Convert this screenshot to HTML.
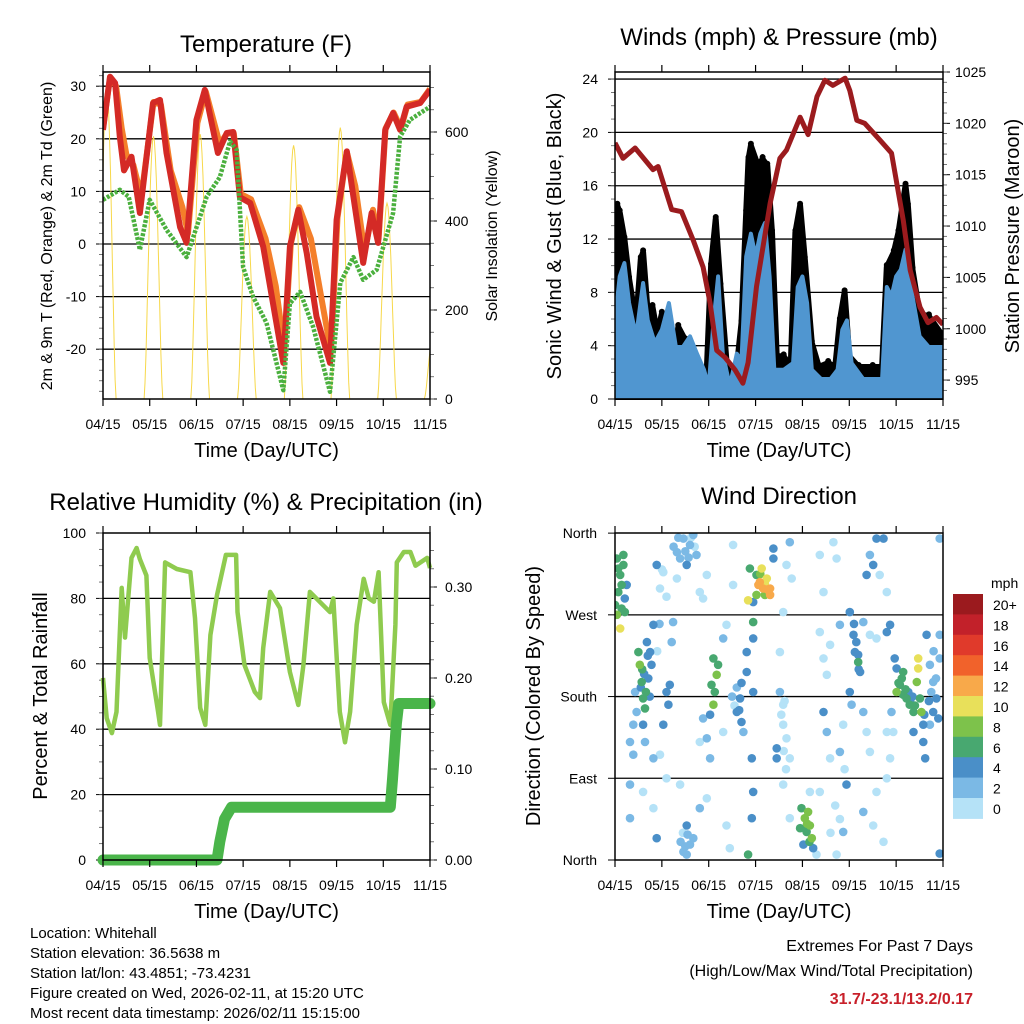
<!DOCTYPE html>
<html><head><meta charset="utf-8"><style>
html,body{margin:0;padding:0;background:#fff}
svg{display:block;font-family:"Liberation Sans",Arial,sans-serif}
</style></head><body>
<svg id="c" width="1024" height="1024" viewBox="0 0 1024 1024" xmlns="http://www.w3.org/2000/svg"></svg>
<script>
// ---------- Temperature panel data ----------
const redDay=[0,0.15,0.26,0.36,0.45,0.61,0.79,1.07,1.22,1.36,1.65,1.79,2.0,2.18,2.46,2.65,2.79,2.93,3.15,3.43,3.64,3.86,4.0,4.18,4.36,4.57,4.86,5.0,5.22,5.36,5.57,5.75,5.89,6.04,6.21,6.36,6.5,6.79,7.0];
const redT=[21.7,31.8,30.6,20.4,14,16.6,5.9,26.8,27.4,17.3,3.2,0.2,23.6,29.3,17.3,21.1,21.3,8.9,7.8,-0.5,-11.3,-22.6,-0.5,6.5,-1.7,-13.8,-22.6,4.6,17.6,9,-3.6,5.9,0.2,21.7,24.9,21.7,26.1,26.8,29.3];
const orgDay=[0,0.15,0.28,0.4,0.5,0.65,0.82,1.08,1.24,1.45,1.7,1.82,2.02,2.2,2.5,2.65,2.8,2.95,3.17,3.48,3.7,3.88,4.02,4.2,4.45,4.65,4.88,5.02,5.22,5.4,5.6,5.78,5.9,6.05,6.22,6.38,6.52,6.8,7.0];
const orgT=[22,31.5,30,22,17,15,9,27,26.5,14,7,2,23,29,19,21,21,9.5,8.5,1,-8,-20,0,7,1,-9,-20.5,5,17.5,11,-1.5,6.5,1,22,25,22,26.5,27,29.5];
const tdDay=[0,0.36,0.55,0.79,1.0,1.36,1.79,2.22,2.5,2.72,2.86,3.0,3.21,3.5,3.86,4.0,4.22,4.5,4.86,5.08,5.36,5.57,5.86,6.21,6.36,6.57,7.0];
const tdT=[8.4,10.3,9,-1.1,8.4,2.7,-2.5,9,12.7,19.5,17.9,-4.4,-10,-15,-27.8,-11.3,-9.1,-15.8,-28.1,-7.4,-2.5,-6.8,-4.9,5.9,20.4,23.6,26.1];
const solarPeak=[700,590,595,410,570,610,440,150];
const tempTicks=[-20,-10,0,10,20,30];
const solarTicks=[0,200,400,600];
const xTickLabels=["04/15","05/15","06/15","07/15","08/15","09/15","10/15","11/15"];
// ---------- Wind panel data ----------
const presDay=[0,0.17,0.43,0.81,0.92,1.21,1.42,1.67,1.88,2.03,2.17,2.35,2.56,2.73,2.84,3.02,3.31,3.52,3.66,3.95,4.12,4.31,4.48,4.65,4.91,5.01,5.16,5.33,5.65,5.9,6.15,6.3,6.51,6.68,6.86,7.0];
const presMb=[1018.1,1016.6,1017.6,1015.5,1015.8,1011.6,1011.4,1008.6,1006,1002.5,997.9,997.2,996,994.7,996.7,1004.1,1012.2,1016.6,1017.4,1020.6,1018.9,1022.6,1024.2,1023.7,1024.4,1023.2,1020.3,1020,1018.4,1017.1,1010.6,1005.7,1002.1,1000.6,1001.1,1000.4];
const windDay=[0,0.1,0.2,0.3,0.45,0.6,0.7,0.85,1.0,1.15,1.3,1.45,1.6,1.75,1.9,2.0,2.1,2.2,2.3,2.45,2.6,2.7,2.8,2.9,3.0,3.1,3.2,3.3,3.4,3.6,3.8,3.9,4.0,4.1,4.2,4.4,4.6,4.75,4.85,4.95,5.05,5.3,5.5,5.7,5.8,5.9,6.0,6.1,6.2,6.35,6.5,6.7,7.0];
const windSpd=[5.9,9.2,10.2,7.2,4.7,8.7,5.9,4.2,5.2,7.2,3.9,3.9,4.7,3.4,2.2,0.9,5.7,9.2,3.4,1,3.4,2.9,10.7,12.4,10.7,12.4,13.2,9.2,2.2,2.2,2.7,8.4,9.2,7.2,2.2,1.5,1.5,2.2,5.2,5.9,2.7,1.5,1.5,1.5,8.4,7.7,9.2,9.7,11.2,7.7,4.7,3.9,3.9];
const gustDay=[0,0.05,0.1,0.2,0.3,0.45,0.55,0.6,0.7,0.8,0.9,1.0,1.1,1.2,1.3,1.35,1.5,1.65,1.8,1.95,2.05,2.15,2.25,2.4,2.6,2.7,2.8,2.85,2.9,3.05,3.15,3.25,3.35,3.45,3.6,3.75,3.85,3.95,4.05,4.2,4.35,4.55,4.7,4.8,4.9,5.0,5.2,5.5,5.7,5.8,5.95,6.05,6.2,6.25,6.35,6.5,6.7,7.0];
const gustSpd=[13,14.5,14,12,9,5.7,10.5,11,6.4,6.9,4.9,6.4,5.4,5.4,3.9,5.4,4.4,1.9,1.4,1.4,10,13.5,8.5,1.9,2.4,5.7,14,18,19,17.5,18,17.5,12.5,3.2,3.2,2.4,12.5,14.5,10.5,4.2,2.4,2.7,2.4,5.9,8,3.2,2.4,2.4,2.4,9.9,11,12.5,16,14.5,9.7,6.4,6.2,4.7];
const windTicks=[0,4,8,12,16,20,24];
const presTicks=[995,1000,1005,1010,1015,1020,1025];
// ---------- RH panel data ----------
const rhDay=[0,0.08,0.19,0.29,0.4,0.47,0.61,0.72,0.79,0.93,1.0,1.18,1.22,1.33,1.58,1.87,1.97,2.08,2.19,2.3,2.44,2.63,2.85,2.88,3.03,3.25,3.36,3.43,3.58,3.79,4.0,4.18,4.29,4.43,4.86,4.93,5.07,5.18,5.29,5.43,5.58,5.69,5.8,5.9,6.01,6.15,6.26,6.29,6.44,6.58,6.69,6.94,7.0];
const rhPct=[55.7,43.4,38.8,45.3,83.2,68,92.4,95.4,92,87,61.8,45.3,41.3,91,89,88,74,46.5,41.3,68.8,81,93.3,93.3,75.8,59.6,51.4,49.5,64.8,82,77,57.5,47.4,59.6,82,75.8,80,45.3,36,45.3,72,86,80,79,88,48.3,41.3,72,91,94.2,94.2,90,92.4,89.3];
const prDay=[0,2.44,2.5,2.6,2.75,6.15,6.2,6.28,6.33,7.0];
const prIn=[0,0,0.02,0.045,0.058,0.058,0.09,0.15,0.172,0.172];
const rhTicks=[0,20,40,60,80,100];
const prTicks=["0.00","0.10","0.20","0.30"];
// ---------- Wind direction data (day,deg,mph) ----------
const wdRaw="0.04,332,7;0.11,314,7;0.18,325,7;0.07,295,7;0.21,288,5;0.14,277,7;0.04,270,9;0.11,255,11;0.25,303,5;0.18,336,7;0,281,7;0.21,273,7;0.07,321,7;0.14,303,7;0.5,229,7;0.53,215,9;0.57,196,7;0.6,178,7;0.64,167,7;0.75,229,5;0.78,215,5;0.71,200,5;0.82,259,5;0.68,240,5;0.43,185,3;0.39,149,3;0.6,149,5;0.64,130,3;0.39,116,3;0.32,130,3;0.82,112,3;0.46,163,3;1.32,339,3;1.46,354,3;1.6,347,3;1.67,358,3;1.39,332,3;1.53,325,5;1.74,336,3;1.81,295,1;1.88,288,1;1.32,310,1;0.96,299,1;0.89,325,5;1.03,317,1;1.96,314,1;1.17,193,5;1.1,185,5;1.14,171,5;1.03,149,5;1.24,262,3;1.21,240,3;0.96,116,1;1.39,83,1;1.53,38,5;1.6,17,3;1.46,9,3;1.67,24,3;1.53,6,3;0.89,24,5;0.32,46,3;0.32,83,3;0.82,57,1;1.1,90,1;0.6,75,1;2.1,222,7;2.17,204,9;2.13,185,7;2.06,193,7;2.2,215,7;2.1,171,9;2.03,160,5;1.88,156,3;1.96,134,3;2.03,112,3;1.81,130,1;1.96,68,1;1.81,57,3;2.31,141,1;2.38,259,1;2.31,244,3;2.52,347,1;2.52,303,1;2.38,38,1;2.45,13,1;2.6,163,5;2.67,178,5;2.7,152,5;2.81,207,5;2.81,229,5;2.74,141,3;2.88,321,7;3.02,314,7;3.09,306,13;3.16,299,13;3.31,299,13;3.24,310,11;3.13,321,11;3.02,292,9;2.95,284,5;2.84,286,11;3.31,292,13;3.2,292,9;3.06,303,13;3.38,332,5;3.38,343,5;2.95,262,7;2.95,244,5;2.92,112,5;2.95,75,5;2.92,46,5;2.84,6,7;2.95,185,5;3.45,123,5;3.45,112,5;3.73,350,3;3.66,325,1;3.77,310,1;3.59,273,1;3.52,229,1;3.52,185,3;3.59,171,1;3.59,149,1;3.66,134,1;3.73,112,1;3.59,83,1;3.73,46,1;3.98,57,7;4.05,46,9;4.16,38,9;4.09,31,7;4.2,24,9;4.02,17,5;4.12,53,9;4.23,13,5;3.95,35,7;4.16,75,1;4.3,6,1;4.37,336,1;4.45,295,1;4.37,251,1;4.45,222,1;4.52,204,1;4.45,163,5;4.52,141,3;4.59,112,1;4.66,350,1;4.73,332,1;4.8,259,3;4.59,237,1;4.87,149,1;4.8,119,3;4.94,83,5;4.87,31,3;4.73,6,1;4.37,75,1;5.01,273,5;5.09,248,5;5.19,226,5;5.19,218,7;5.23,207,5;5.12,229,5;5.01,185,5;5.05,171,3;5.3,262,3;5.37,314,5;5.44,336,3;5.51,325,5;5.58,354,5;5.73,354,5;5.65,314,1;5.8,295,1;5.44,248,1;5.58,244,1;5.3,163,3;5.37,141,1;5.44,119,1;5.3,53,3;5.58,75,1;5.51,38,1;5.73,20,1;5.8,141,1;5.87,112,1;5.87,259,5;5.8,251,5;6.01,185,9;6.08,193,7;6.15,182,7;6.12,200,7;6.22,178,7;6.29,171,7;6.37,163,7;6.26,185,5;6.47,222,11;6.47,211,11;6.44,196,9;6.54,163,9;6.51,178,7;5.97,222,5;6.01,211,5;6.15,207,7;6.58,149,5;6.58,130,5;6.62,112,5;6.37,141,5;6.65,248,5;6.72,215,3;6.79,196,3;6.86,178,5;6.9,156,5;6.93,222,3;6.93,248,3;6.79,163,5;6.72,149,3;6.93,354,3;6.93,7,5;5.9,163,3;5.94,141,1;5.8,90,1;1.4,20,3;1.5,15,3;1.55,28,3;1.45,30,1;1.25,345,3;1.35,355,3;1.5,340,3;1.57,333,3;1.62,355,1;1.7,345,1;0.55,190,5;0.62,205,5;0.7,225,5;0.74,180,5;0.66,185,7;0.58,210,7;2.5,180,3;2.55,170,1;2.65,165,5;2.6,190,3;2.7,195,5;3.6,120,1;3.65,100,1;3.55,160,1;3.62,175,1;3.1,315,9;3.2,305,11;3.25,298,13;4.05,35,7;4.1,40,9;4.15,20,7;6.05,195,7;6.2,188,7;6.3,176,5;6.4,170,7;6.35,180,5;6.6,160,5;6.7,175,5;6.75,185,3;6.85,200,3;6.8,230,3;5.15,240,5;5.2,210,5;5.1,260,5;4.7,60,1;4.8,45,1;4.6,30,1;4.9,100,1;1.0,320,1;1.1,290,1;0.95,260,3;0.9,230,1";
const wdDay=[],wdDir=[],wdSpd=[];
wdRaw.split(";").forEach(s=>{const p=s.split(",");wdDay.push(+p[0]);wdDir.push(+p[1]);wdSpd.push(+p[2]);});
const cbLabels=["20+","18","16","14","12","10","8","6","4","2","0"];
const cbColors=["#9b1a1e","#c2212a","#e03a2b","#f1622b","#f8a94a","#e8e05a","#7dc24b","#48a870","#4a8fc8","#7bb9e5","#b5e2f7"];
const dirLabels=["North","East","South","West","North"];

// ---------- helpers ----------
const svg=document.getElementById('c');
const NS="http://www.w3.org/2000/svg";
function mk(tag,at,parent){const e=document.createElementNS(NS,tag);for(const k in at)e.setAttribute(k,at[k]);(parent||svg).appendChild(e);return e;}
function txt(x,y,s,size,anchor,extra){const t=mk('text',Object.assign({x:x,y:y,'font-size':size,'text-anchor':anchor||'middle',fill:'#000'},extra||{}));t.textContent=s;return t;}
function line(x1,y1,x2,y2,c,w){return mk('line',{x1:x1,y1:y1,x2:x2,y2:y2,stroke:c||'#000','stroke-width':w||1});}
function pts(xa,ya,fx,fy){return xa.map((d,i)=>fx(d).toFixed(1)+','+fy(ya[i]).toFixed(1)).join(' ');}

function xAxis(x0,x1,yb,yt){
  const fx=d=>x0+d/7*(x1-x0);
  xTickLabels.forEach((l,i)=>{
    const x=fx(i);
    const tk=line(x,yb,x,yb+7,'#000',1.2);
    
    
    line(x,yt,x,yt-7,'#000',1.2);
    const t=txt(x,yb+30,l,14);
    
    
  });
  const tt=txt((x0+x1)/2,yb+58,"Time (Day/UTC)",20);
  
  
  return fx;
}
function frame(x0,y0,x1,y1,name){
  const r=mk('rect',{x:x0,y:y0,width:x1-x0,height:y1-y0,fill:'none',stroke:'#000','stroke-width':1.5});
  
  
}

// ================= Panel 1: Temperature =================
(function(){
  const x0=103,x1=430,y0=72,y1=399;
  const fy=v=>244-v*5.26;
  const fs=v=>399-v*0.445;
  const fx=d=>x0+d/7*(x1-x0);
  const t=txt(266,52,"Temperature (F)",24);
  
  
  tempTicks.forEach(v=>{
    const g=line(x0,fy(v),x1,fy(v),'#000',1.3);
    
    
    line(x0-7,fy(v),x0,fy(v));
    const l=txt(86,fy(v)+5,String(v),14,'end');
    
    
  });
  for(let v=-28;v<=32;v+=2){line(x0-4,fy(v),x0,fy(v),'#555',0.8);}
  solarTicks.forEach(v=>{
    line(x1,fs(v),x1+7,fs(v));
    const l=txt(445,fs(v)+5,String(v),14,'start');
    
    
  });
  for(let v=0;v<=720;v+=50){line(x1,fs(v),x1+4,fs(v),'#555',0.8);}
  const cp=mk('clipPath',{id:'cp1'});mk('rect',{x:x0,y:y0,width:x1-x0,height:y1-y0},cp);
  const g=mk('g',{'clip-path':'url(#cp1)'});
  solarPeak.forEach((p,i)=>{
    const c=i+0.08;let d='';
    for(let k=0;k<=20;k++){const dd=c-0.2+k*0.02;const v=p*Math.pow(Math.sin(Math.PI*k/20),1.5);d+=(k?'L':'M')+fx(dd).toFixed(1)+','+fs(v).toFixed(1);}
    const s=mk('path',{d:d,fill:'none',stroke:'#f7d84a','stroke-width':1},g);
    
    
  });
  const o=mk('polyline',{points:pts(orgDay,orgT,fx,fy),fill:'none',stroke:'#f47f2a','stroke-width':6,'stroke-linejoin':'round'},g);
  
  
  const r=mk('polyline',{points:pts(redDay,redT,fx,fy),fill:'none',stroke:'#d42a26','stroke-width':6,'stroke-linejoin':'round'},g);
  
  
  const gd=mk('polyline',{points:pts(tdDay,tdT,fx,fy),fill:'none',stroke:'#4bb03e','stroke-width':4.5,'stroke-dasharray':'3 1.5','stroke-linejoin':'round'},g);
  
  
  frame(x0,y0,x1,y1,'temperature-plot-frame');
  xAxis(x0,x1,y1,y0);
  const yl=txt(0,0,"2m & 9m T (Red, Orange) & 2m Td (Green)",16,'middle',{transform:'translate(52,236) rotate(-90)'});
  
  
  const yr=txt(0,0,"Solar Insolation (Yellow)",16,'middle',{transform:'translate(497,236) rotate(-90)'});
  
  
})();

// ================= Panel 2: Winds =================
(function(){
  const x0=615,x1=943,y0=72,y1=399;
  const fy=v=>399-v*13.33;
  const fp=p=>72+(1025-p)*10.27;
  const fx=d=>x0+d/7*(x1-x0);
  const t=txt(779,45,"Winds (mph) & Pressure (mb)",24);
  
  
  windTicks.forEach(v=>{
    if(v>0){const g=line(x0,fy(v),x1,fy(v),'#000',1.3);
      
      }
    line(x0-7,fy(v),x0,fy(v));
    const l=txt(598,fy(v)+5,String(v),14,'end');
    
    
  });
  for(let v=1;v<=24;v++){line(x0-4,fy(v),x0,fy(v),'#555',0.8);}
  presTicks.forEach(v=>{
    line(x1,fp(v),x1+7,fp(v));
    const l=txt(955,fp(v)+5,String(v),14,'start');
    
    
  });
  for(let v=994;v<=1025;v++){line(x1,fp(v),x1+4,fp(v),'#555',0.8);}
  const cp=mk('clipPath',{id:'cp2'});mk('rect',{x:x0,y:y0,width:x1-x0,height:y1-y0+1},cp);
  const g=mk('g',{'clip-path':'url(#cp2)'});
  const gp=pts(gustDay,gustSpd,fx,fy)+' '+fx(7).toFixed(1)+','+fy(0)+' '+fx(0).toFixed(1)+','+fy(0);
  const gpoly=mk('polygon',{points:gp,fill:'#000',stroke:'#000','stroke-width':6,'stroke-linejoin':'round'},g);
  
  
  gustDay.forEach((d,i)=>{
    const c=mk('circle',{cx:fx(d),cy:fy(gustSpd[i])-2,r:3,fill:'#000'},g);
    
    
  });
  const wp=pts(windDay,windSpd,fx,fy)+' '+fx(7).toFixed(1)+','+fy(0.2)+' '+fx(0).toFixed(1)+','+fy(0.2);
  const wpoly=mk('polygon',{points:wp,fill:'#5096d0',stroke:'#5096d0','stroke-width':4,'stroke-linejoin':'round'},g);
  
  
  const pl=mk('polyline',{points:pts(presDay,presMb,fx,fp),fill:'none',stroke:'#9b1b1e','stroke-width':5,'stroke-linejoin':'round'},g);
  
  
  frame(x0,y0,x1,y1,'winds-plot-frame');
  xAxis(x0,x1,y1,y0);
  const yl=txt(0,0,"Sonic Wind & Gust (Blue, Black)",20,'middle',{transform:'translate(561,236) rotate(-90)'});
  
  
  const yr=txt(0,0,"Station Pressure (Maroon)",20,'middle',{transform:'translate(1019,236) rotate(-90)'});
  
  
})();

// ================= Panel 3: RH & precip =================
(function(){
  const x0=103,x1=430,y0=533,y1=860;
  const fy=v=>860-v*3.27;
  const fpr=v=>860-v*910;
  const fx=d=>x0+d/7*(x1-x0);
  const t=txt(266,510,"Relative Humidity (%) & Precipitation (in)",24);
  
  
  rhTicks.forEach(v=>{
    if(v>0&&v<100){const g=line(x0,fy(v),x1,fy(v),'#000',1.3);
      
      }
    line(x0-7,fy(v),x0,fy(v));
    const l=txt(86,fy(v)+5,String(v),14,'end');
    
    
  });
  for(let v=0;v<=100;v+=5){line(x0-4,fy(v),x0,fy(v),'#555',0.8);}
  prTicks.forEach(s=>{
    const v=parseFloat(s);
    line(x1,fpr(v),x1+7,fpr(v));
    const l=txt(445,fpr(v)+5,s,14,'start');
    
    
  });
  for(let v=0;v<=0.36;v+=0.02){line(x1,fpr(v),x1+4,fpr(v),'#555',0.8);}
  const cp=mk('clipPath',{id:'cp3'});mk('rect',{x:x0-6,y:y0,width:x1-x0+12,height:y1-y0+6},cp);
  const g=mk('g',{'clip-path':'url(#cp3)'});
  const rh=mk('polyline',{points:pts(rhDay,rhPct,fx,fy),fill:'none',stroke:'#8fcb4f','stroke-width':4.5,'stroke-linejoin':'round'},g);
  
  
  const pr=mk('polyline',{points:pts(prDay,prIn,fx,fpr),fill:'none',stroke:'#4ab54a','stroke-width':11,'stroke-linejoin':'round','stroke-linecap':'round'},g);
  
  
  frame(x0,y0,x1,y1,'rh-plot-frame');
  xAxis(x0,x1,y1,y0);
  const yl=txt(0,0,"Percent & Total Rainfall",20,'middle',{transform:'translate(47,696) rotate(-90)'});
  
  
})();

// ================= Panel 4: Wind direction =================
(function(){
  const x0=615,x1=943,y0=533,y1=860;
  const fy=v=>860-v*0.908;
  const fx=d=>x0+d/7*(x1-x0);
  const t=txt(779,504,"Wind Direction",24);
  
  
  dirLabels.forEach((l,i)=>{
    const v=i*90;
    if(i>0&&i<4){const g=line(x0,fy(v),x1,fy(v),'#000',1.3);
      
      }
    line(x0-7,fy(v),x0,fy(v));
    const tl=txt(597,fy(v)+5,l,14,'end');
    
    
  });
  const cp=mk('clipPath',{id:'cp4'});mk('rect',{x:x0,y:y0,width:x1-x0,height:y1-y0},cp);
  const g=mk('g',{'clip-path':'url(#cp4)'});
  const order=wdSpd.map((s,i)=>i).sort((a,b)=>wdSpd[a]-wdSpd[b]);
  order.forEach(i=>{
    const idx=Math.max(0,Math.min(10,10-Math.floor(wdSpd[i]/2)));
    const c=mk('circle',{cx:fx(wdDay[i]).toFixed(1),cy:fy(wdDir[i]).toFixed(1),r:4.3,fill:cbColors[idx]},g);
    
    
  });
  frame(x0,y0,x1,y1,'wind-direction-plot-frame');
  xAxis(x0,x1,y1,y0);
  const yl=txt(0,0,"Direction (Colored By Speed)",20,'middle',{transform:'translate(540,696) rotate(-90)'});
  
  
  const mph=txt(991,588,"mph",14,'start');
  
  
  cbColors.forEach((c,i)=>{
    const y=594+i*20.4;
    const r=mk('rect',{x:953,y:y,width:30,height:20.9,fill:c});
    
    
    const l=txt(993,y+16,cbLabels[i],14,'start');
    
    
  });
})();

// ================= Footer text =================
const info=["Location: Whitehall","Station elevation: 36.5638 m","Station lat/lon: 43.4851; -73.4231","Figure created on Wed, 2026-02-11, at 15:20 UTC","Most recent data timestamp: 2026/02/11 15:15:00"];
info.forEach((s,i)=>{
  const t=txt(30,938+i*20,s,15,'start');
  
  
});
const e1=txt(973,951,"Extremes For Past 7 Days",16,'end');


const e2=txt(973,976,"(High/Low/Max Wind/Total Precipitation)",16,'end');


const e3=txt(973,1004,"31.7/-23.1/13.2/0.17",16,'end',{fill:'#c8202a','font-weight':'bold'});


</script>
</body></html>
